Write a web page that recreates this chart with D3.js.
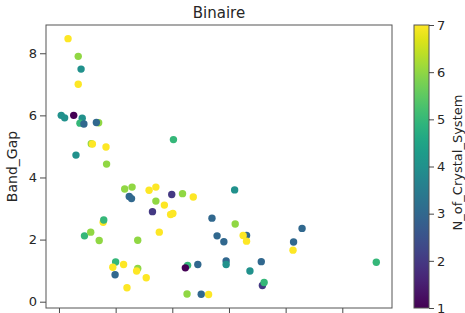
<!DOCTYPE html>
<html>
<head>
<meta charset="utf-8">
<script src="https://cdn.jsdelivr.net/npm/d3@7"></script>
<style>
  body { margin: 0; background: #fff; }
  text { font-family: "DejaVu Sans", sans-serif; fill: #262626; }
</style>
</head>
<body>
<svg id="svg1"></svg>
<script>
const chartTitle = "Binaire";
const yLabel = "Band_Gap";
const colorLabel = "N_of_Crystal_System";

const xTicks = [0, 1, 2, 3, 4, 5];
const yTicks = [0, 2, 4, 6, 8];
const colorTicks = [1, 2, 3, 4, 5, 6, 7];

// x position (no tick labels shown), band gap, crystal system count
const xVals = [0.16, 0.34, 0.39, 0.34, 0.04, 0.10, 0.26, 0.41, 0.37, 0.44,
    0.70, 0.66, 0.57, 0.59, 0.83, 0.30, 0.84, 1.16, 1.29, 1.24,
    1.28, 1.59, 1.71, 1.71, 1.65, 1.77, 0.78, 0.79, 0.45, 0.56,
    0.71, 1.39, 1.00, 1.14, 0.95, 0.99, 1.39, 1.37, 1.54, 1.20,
    1.99, 2.18, 2.37, 1.86, 1.97, 2.01, 2.02, 3.10, 2.70, 3.11,
    2.79, 2.91, 3.31, 3.25, 3.31, 4.29, 4.14, 4.13, 5.60, 2.95,
    2.95, 2.45, 2.27, 2.23, 3.57, 3.37, 3.59, 3.62, 2.26, 2.51,
    2.64];
const yVals = [8.47, 7.90, 7.49, 7.00, 6.00, 5.92, 6.00, 5.91, 5.75, 5.72,
    5.76, 5.77, 5.09, 5.08, 4.98, 4.72, 4.43, 3.63, 3.69, 3.39,
    3.32, 3.59, 3.69, 3.24, 2.90, 2.24, 2.56, 2.63, 2.12, 2.24,
    1.97, 1.98, 1.28, 1.20, 1.11, 0.87, 1.07, 0.99, 0.77, 0.45,
    3.45, 3.48, 3.37, 3.11, 2.81, 2.84, 5.22, 3.60, 2.69, 2.50,
    2.12, 1.93, 2.13, 2.13, 1.95, 2.36, 1.92, 1.66, 1.27, 1.31,
    1.20, 1.20, 1.17, 1.09, 1.29, 0.99, 0.52, 0.62, 0.25, 0.24,
    0.23];
const nSys = [7, 6, 4, 7, 4, 4, 1, 4, 5, 3,
    6, 3, 6, 7, 7, 4, 6, 6, 6, 3,
    3, 7, 7, 6, 2, 7, 7, 5, 5, 6,
    6, 6, 5, 7, 7, 3, 6, 7, 7, 7,
    2, 6, 7, 7, 7, 7, 5, 4, 3, 6,
    3, 3, 3, 7, 7, 3, 3, 7, 5, 3,
    4, 3, 5, 1, 3, 4, 2, 5, 6, 3,
    7];

const width = 465;
const height = 313;
const svg = d3.select("#svg1")
    .attr("width", width)
    .attr("height", height);

const plot = {left: 46, right: 392, top: 25, bottom: 308};
const bar = {left: 414, right: 429};

const x = d3.scaleLinear().domain([-0.229, 5.877]).range([plot.left, plot.right]);
const y = d3.scaleLinear().domain([-0.203, 8.91]).range([plot.bottom, plot.top]);
const color = d3.scaleSequential(d3.interpolateViridis).domain([1, 7]);
const cy = d3.scaleLinear().domain([1, 7]).range([plot.bottom, plot.top]);

const points = xVals.map(function(v, i) { return {x: v, y: yVals[i], n: nSys[i]} });

// points
svg.append("g")
    .selectAll("circle")
    .data(points)
    .enter().append("circle")
    .attr("cx", function(d) { return x(d.x) })
    .attr("cy", function(d) { return y(d.y) })
    .attr("r", 3.7)
    .attr("fill", function(d) { return color(d.n) });

// axes
const yAxis = svg.append("g")
    .attr("transform", "translate(" + plot.left + ",0)")
    .call(d3.axisLeft(y).tickValues(yTicks).tickSize(6).tickPadding(3).tickFormat(d3.format("d")));
const xAxis = svg.append("g")
    .attr("transform", "translate(0," + plot.bottom + ")")
    .call(d3.axisBottom(x).tickValues(xTicks).tickSize(6).tickFormat(""));

[xAxis, yAxis].forEach(function(a) {
    a.select(".domain").remove();
    a.selectAll("line").attr("stroke", "#333").attr("stroke-width", 0.9);
    a.selectAll("text").attr("font-size", 13).attr("fill", "#262626")
        .attr("font-family", "DejaVu Sans, sans-serif");
});

svg.append("rect")
    .attr("x", plot.left)
    .attr("y", plot.top)
    .attr("width", plot.right - plot.left)
    .attr("height", plot.bottom - plot.top)
    .attr("fill", "none")
    .attr("stroke", "#555")
    .attr("stroke-width", 1);

svg.append("text")
    .attr("x", (plot.left + plot.right) / 2)
    .attr("y", 18)
    .attr("text-anchor", "middle")
    .attr("font-size", 15)
    .text(chartTitle);

svg.append("text")
    .attr("transform", "translate(17," + ((plot.top + plot.bottom) / 2) + ") rotate(-90)")
    .attr("text-anchor", "middle")
    .attr("font-size", 14)
    .text(yLabel);

// colorbar
const grad = svg.append("defs").append("linearGradient")
    .attr("id", "viridis")
    .attr("x1", 0).attr("y1", 1).attr("x2", 0).attr("y2", 0);
grad.selectAll("stop")
    .data(d3.range(0, 1.001, 0.05))
    .enter().append("stop")
    .attr("offset", function(t) { return t })
    .attr("stop-color", function(t) { return d3.interpolateViridis(t) });

svg.append("rect")
    .attr("x", bar.left)
    .attr("y", plot.top)
    .attr("width", bar.right - bar.left)
    .attr("height", plot.bottom - plot.top)
    .attr("fill", "url(#viridis)")
    .attr("stroke", "#555")
    .attr("stroke-width", 1);

const cAxis = svg.append("g")
    .attr("transform", "translate(" + bar.right + ",0)")
    .call(d3.axisRight(cy).tickValues(colorTicks).tickSize(5).tickPadding(3).tickFormat(d3.format("d")));
cAxis.select(".domain").remove();
cAxis.selectAll("line").attr("stroke", "#333").attr("stroke-width", 0.9);
cAxis.selectAll("text").attr("font-size", 13).attr("fill", "#262626")
    .attr("font-family", "DejaVu Sans, sans-serif");

svg.append("text")
    .attr("transform", "translate(457," + ((plot.top + plot.bottom) / 2 - 4) + ") rotate(-90)")
    .attr("text-anchor", "middle")
    .attr("dominant-baseline", "central")
    .attr("font-size", 13)
    .text(colorLabel);
</script>
</body>
</html>
